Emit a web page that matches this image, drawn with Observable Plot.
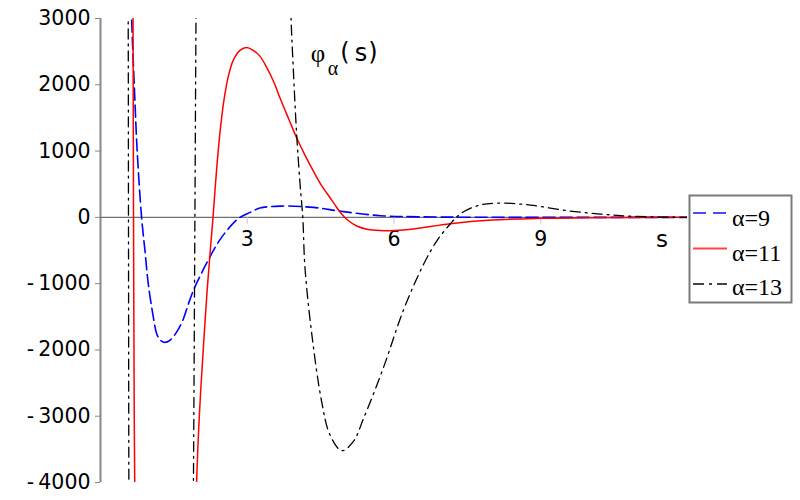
<!DOCTYPE html>
<html>
<head>
<meta charset="utf-8">
<script src="https://cdn.jsdelivr.net/npm/d3@7"></script>
<script src="https://cdn.jsdelivr.net/npm/@observablehq/plot@0.6"></script>
<style>
  html, body { margin: 0; padding: 0; background: #fff; }
  #chart { width: 800px; height: 500px; }
</style>
</head>
<body>
<div id="chart"></div>
<script>
// ---- data ----
// alpha = 9 (blue dashed)
const s9   = [0.60, 0.636, 0.69, 0.75, 0.84, 0.91, 0.976, 1.08, 1.15, 1.22, 1.28, 1.33, 1.40, 1.49, 1.59, 1.69, 1.80, 1.90, 2.00, 2.10, 2.20, 2.30, 2.44, 2.65, 2.85, 3.06, 3.26, 3.67, 4.35, 4.93, 5.72, 6.5, 7.5, 9, 12];
const phi9 = [4000, 3000, 2000, 1000, 0, -510, -1000, -1505, -1760, -1850, -1880, -1885, -1865, -1800, -1690, -1540, -1300, -1100, -940, -790, -650, -510, -340, -140, 0, 75, 140, 170, 150, 90, 25, 8, 2, 0, 0];

// alpha = 11 (red solid)
const s11   = [0.655, 0.665, 0.675, 0.69, 0.70, 0.715, 1.3, 1.94, 1.965, 2.02, 2.10, 2.18, 2.25, 2.30, 2.35, 2.40, 2.46, 2.53, 2.62, 2.72, 2.85, 2.99, 3.12, 3.25, 3.40, 3.55, 3.67, 3.85, 4.01, 4.18, 4.35, 4.52, 4.69, 4.82, 4.93, 5.05, 5.24, 5.45, 5.72, 6.0, 6.40, 7.15, 8.0, 9.0, 10.0, 12];
const phi11 = [4500, 3000, 0, -3000, -4000, -5500, -30000, -5000, -4000, -3000, -2000, -1100, -450, 0, 500, 950, 1400, 1800, 2150, 2380, 2520, 2564, 2520, 2440, 2260, 2030, 1800, 1480, 1200, 940, 700, 480, 300, 160, 50, -40, -130, -180, -200, -198, -175, -95, -40, -15, -5, 0];

// alpha = 13 (black dash-dot)
const s13   = [0.555, 0.566, 0.572, 0.580, 0.59, 1.2, 1.88, 1.90, 1.93, 1.952, 1.97, 2.9, 3.87, 3.896, 3.94, 4.01, 4.08, 4.135, 4.18, 4.32, 4.52, 4.69, 4.93, 5.17, 5.38, 5.78, 6.19, 6.60, 6.88, 7.15, 7.35, 7.70, 8.10, 8.79, 9.54, 10.22, 10.9, 12];
const phi13 = [4500, 3000, 0, -4000, -6000, -40000, -6000, -4000, 0, 3000, 5000, 40000, 4000, 3000, 2260, 1250, 500, 0, -760, -1765, -2775, -3280, -3520, -3380, -3030, -2275, -1405, -715, -350, -100, 50, 175, 215, 185, 100, 50, 15, 0];

const seriesNames = ["α=9", "α=11", "α=13"];
const xTicks = [3, 6, 9];
const yTicks = [-4000, -3000, -2000, -1000, 0, 1000, 2000, 3000];
const xLabel = "s";

// ---- build table ----
const toRows = (s, v, name) => s.map((d, i) => ({s: d, phi: v[i], series: name}));
const rows9 = toRows(s9, phi9, seriesNames[0]);
const rows11 = toRows(s11, phi11, seriesNames[1]);
const rows13 = toRows(s13, phi13, seriesNames[2]);

const styles = [
  {stroke: "#0000ff", dash: "12,5", width: 1.6, legend: "#4a4aff"},
  {stroke: "#ff0000", dash: null, width: 1.5, legend: "#ff4545"},
  {stroke: "#000000", dash: "10,5,2,5", width: 1.3, legend: "#444444"}
];

const fmt = d => d < 0 ? "-\u2009" + Math.abs(d) : String(d);

const svg = Plot.plot({
  width: 800,
  height: 500,
  marginLeft: 100,
  marginRight: 113,
  marginTop: 18,
  marginBottom: 18,
  style: {background: "white", fontFamily: "DejaVu Sans", color: "black"},
  x: {domain: [0, 12], axis: null},
  y: {domain: [-4000, 3000], axis: null},
  marks: [
    Plot.axisY(yTicks, {anchor: "left", label: null, tickSize: 5, tickPadding: 5, fontSize: 20.5, stroke: "#888", fill: "black", tickFormat: fmt}),
    Plot.ruleX([0], {stroke: "#888", strokeWidth: 2}),
    Plot.ruleY([0], {stroke: "#707070", strokeWidth: 1.4}),
    Plot.ruleX(xTicks, {x: d => d, y1: 0, y2: -105, stroke: "#c8c8c8", strokeWidth: 1}),
    Plot.text(xTicks, {x: d => d, y: 0, text: d => String(d), dy: 22, fontSize: 20.5, fill: "black"}),
    Plot.line(rows9, {x: "s", y: "phi", stroke: styles[0].stroke, strokeWidth: styles[0].width, strokeDasharray: styles[0].dash, curve: "catmull-rom", clip: true}),
    Plot.line(rows11, {x: "s", y: "phi", stroke: styles[1].stroke, strokeWidth: styles[1].width, curve: "catmull-rom", clip: true}),
    Plot.line(rows13, {x: "s", y: "phi", stroke: styles[2].stroke, strokeWidth: styles[2].width, strokeDasharray: styles[2].dash, curve: "catmull-rom", clip: true})
  ]
});

const root = d3.select(svg);

// x-axis label
root.append("text")
  .attr("x", 662).attr("y", 247)
  .attr("text-anchor", "middle")
  .attr("font-family", "DejaVu Sans")
  .attr("font-size", 23)
  .text(xLabel);

// title φα(s)
const title = root.append("g").attr("fill", "black").attr("text-anchor", "middle");
title.append("text").attr("x", 318).attr("y", 62)
  .attr("font-family", "Liberation Serif").attr("font-size", 25).text("φ");
title.append("text").attr("x", 333).attr("y", 75)
  .attr("font-family", "Liberation Serif").attr("font-size", 20).text("α");
title.append("text").attr("x", 345).attr("y", 60)
  .attr("font-family", "DejaVu Sans").attr("font-size", 24).text("(");
title.append("text").attr("x", 361).attr("y", 61)
  .attr("font-family", "DejaVu Sans").attr("font-size", 24).text("s");
title.append("text").attr("x", 373).attr("y", 60)
  .attr("font-family", "DejaVu Sans").attr("font-size", 24).text(")");

// legend
const lg = root.append("g");
lg.append("rect").attr("x", 689.5).attr("y", 195.5).attr("width", 102).attr("height", 107)
  .attr("fill", "white").attr("stroke", "#7a7a7a").attr("stroke-width", 2);
seriesNames.forEach((name, i) => {
  const ly = 213 + 35.5 * i;
  lg.append("line").attr("x1", 693).attr("x2", 727).attr("y1", ly).attr("y2", ly)
    .attr("stroke", styles[i].legend).attr("stroke-width", 2)
    .attr("stroke-dasharray", i === 0 ? "13,7" : i === 2 ? "11,5,3,5" : null);
  lg.append("text").attr("x", 732).attr("y", 226 + 34.5 * i)
    .attr("text-anchor", "start")
    .attr("font-family", "Liberation Serif").attr("font-size", 24).attr("fill", "black")
    .text(name);
});

document.getElementById("chart").appendChild(svg);
</script>
</body>
</html>
